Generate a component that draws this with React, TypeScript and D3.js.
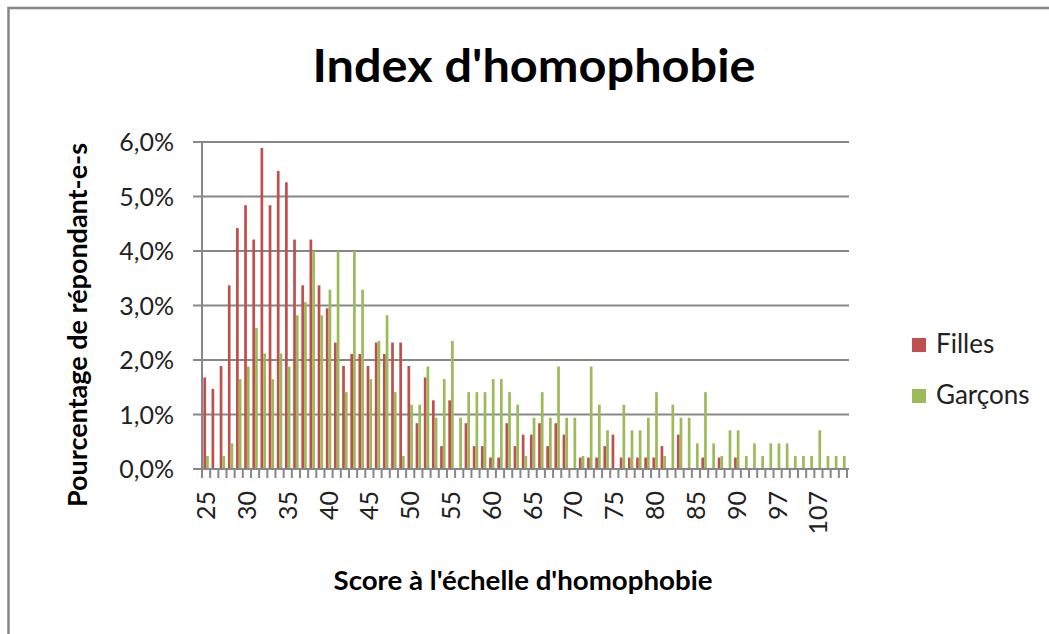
import React from "react";
import * as d3 from "d3";

// Categories: scores present on the scale
const scores: number[] = [
  25, 26, 27, 28, 29, 30, 31, 32, 33, 34,
  35, 36, 37, 38, 39, 40, 41, 42, 43, 44,
  45, 46, 47, 48, 49, 50, 51, 52, 53, 54,
  55, 56, 57, 58, 59, 60, 61, 62, 63, 64,
  65, 66, 67, 68, 69, 70, 71, 72, 73, 74,
  75, 76, 77, 78, 79, 80, 81, 82, 83, 84,
  85, 86, 87, 88, 89, 90, 91, 92, 93, 95,
  97, 98, 100, 102, 104, 107, 108, 110, 112,
];

// Percentage of respondents (Filles)
const filles: number[] = [
  1.68, 1.47, 1.89, 3.37, 4.42, 4.84, 4.21, 5.89, 4.84, 5.47,
  5.26, 4.21, 3.37, 4.21, 3.37, 2.95, 2.32, 1.89, 2.11, 2.11,
  1.89, 2.32, 2.11, 2.32, 2.32, 1.89, 0.84, 1.68, 1.26, 0.42,
  1.26, 0, 0.84, 0.42, 0.42, 0.21, 0.21, 0.84, 0.42, 0.63,
  0.63, 0.84, 0.42, 0.84, 0.63, 0, 0.21, 0.21, 0.21, 0.42,
  0.63, 0.21, 0.21, 0.21, 0.21, 0.21, 0.42, 0, 0.63, 0,
  0, 0.21, 0, 0.21, 0, 0.21, 0, 0, 0, 0,
  0, 0, 0, 0, 0, 0, 0, 0, 0,
];

// Percentage of respondents (Garçons)
const garcons: number[] = [
  0.24, 0, 0.24, 0.47, 1.65, 1.88, 2.59, 2.12, 1.65, 2.12,
  1.88, 2.82, 3.06, 4.0, 2.82, 3.29, 4.0, 1.41, 4.0, 3.29,
  1.65, 2.35, 2.82, 1.41, 0.24, 1.18, 1.18, 1.88, 0.94, 1.65,
  2.35, 0.94, 1.41, 1.41, 1.41, 1.65, 1.65, 1.41, 1.18, 0.24,
  0.94, 1.41, 0.94, 1.88, 0.94, 0.94, 0.24, 1.88, 1.18, 0.71,
  0, 1.18, 0.71, 0.71, 0.94, 1.41, 0.24, 1.18, 0.94, 0.94,
  0.47, 1.41, 0.47, 0.24, 0.71, 0.71, 0.24, 0.47, 0.24, 0.47,
  0.47, 0.47, 0.24, 0.24, 0.24, 0.71, 0.24, 0.24, 0.24,
];

const seriesNames: string[] = ["Filles", "Garçons"];
const seriesColors: string[] = ["#C0504D", "#9BBB59"];
const yTicks: number[] = [0, 1, 2, 3, 4, 5, 6];
const xLabelEvery = 5;

const W = 1049;
const H = 634;
const FONT = "Lato, 'Open Sans', sans-serif";
const GRID = "#878787";

export default function App() {
  const left = 202;
  const right = 847;
  const top = 142;
  const bottom = 469;

  const cats = scores.map(String);
  const x = d3.scaleBand<string>().domain(cats).range([left, right]).padding(0);
  const xs = d3
    .scaleBand<string>()
    .domain(seriesNames)
    .range([0, x.bandwidth()])
    .paddingInner(0)
    .paddingOuter(0.5);
  const y = d3.scaleLinear().domain([0, 6]).range([bottom, top]);
  const fmt = (v: number) => d3.format(".1f")(v).replace(".", ",") + "%";

  const data = [filles, garcons];
  const boundaries = d3.range(cats.length + 1).map((i) => left + i * x.step());

  return (
    <svg
      width={W}
      height={H}
      style={{ position: "absolute", left: 0, top: 0, background: "#fff" }}
      fontFamily={FONT}
    >
      <rect x={0} y={0} width={W} height={H} fill="#fff" />
      <rect x={8.5} y={8} width={W + 50} height={H + 50} fill="none" stroke="#868686" strokeWidth={2.5} />

      <text
        x={534}
        y={82}
        textAnchor="middle"
        fontSize={46}
        fontWeight="bold"
        fill="#000"
        textLength={443}
        lengthAdjust="spacingAndGlyphs"
      >
        Index d'homophobie
      </text>

      {/* gridlines */}
      {yTicks.map((t) => (
        <line key={"g" + t} x1={left} x2={849} y1={y(t)} y2={y(t)} stroke={GRID} strokeWidth={2} />
      ))}
      {/* y axis */}
      <line x1={left} x2={left} y1={top} y2={bottom + 9} stroke={GRID} strokeWidth={2} />
      {yTicks.map((t) => (
        <line key={"yt" + t} x1={193} x2={left} y1={y(t)} y2={y(t)} stroke={GRID} strokeWidth={2} />
      ))}
      {yTicks.map((t) => (
        <text key={"yl" + t} x={174} y={y(t)} dy="0.36em" textAnchor="end" fontSize={25} fill="#222">
          {fmt(t)}
        </text>
      ))}
      {/* x ticks */}
      {boundaries.map((bx, i) => (
        <line key={"xt" + i} x1={bx} x2={bx} y1={bottom} y2={bottom + 9} stroke={GRID} strokeWidth={2} />
      ))}

      {/* bars */}
      {data.map((vals, si) =>
        vals.map((v, i) =>
          v > 0 ? (
            <rect
              key={si + "-" + i}
              x={(x(cats[i]) as number) + (xs(seriesNames[si]) as number)}
              y={y(v)}
              width={xs.bandwidth()}
              height={y(0) - y(v)}
              fill={seriesColors[si]}
            />
          ) : null
        )
      )}
      {/* redraw baseline over bars */}
      <line x1={left} x2={849} y1={bottom} y2={bottom} stroke={GRID} strokeWidth={2} />

      {/* x labels */}
      {cats.map((c, i) =>
        i % xLabelEvery === 0 ? (
          <text
            key={"xl" + c}
            transform={`translate(${(x(c) as number) + x.bandwidth() / 2},491) rotate(-90)`}
            textAnchor="end"
            dy="0.36em"
            fontSize={25}
            fill="#222"
          >
            {c}
          </text>
        ) : null
      )}

      {/* axis titles */}
      <text
        transform={`translate(87,325) rotate(-90)`}
        textAnchor="middle"
        fontSize={27}
        fontWeight="bold"
        fill="#000"
        textLength={364}
        lengthAdjust="spacingAndGlyphs"
      >
        Pourcentage de répondant-e-s
      </text>
      <text
        x={523}
        y={590}
        textAnchor="middle"
        fontSize={27}
        fontWeight="bold"
        fill="#000"
        textLength={379}
        lengthAdjust="spacingAndGlyphs"
      >
        Score à l'échelle d'homophobie
      </text>

      {/* legend */}
      {seriesNames.map((n, i) => (
        <g key={"lg" + n} transform={`translate(912,${338 + i * 51})`}>
          <rect x={0} y={0} width={14} height={14} fill={seriesColors[i]} />
          <text x={24} y={14.5} fontSize={26} fill="#222">
            {n}
          </text>
        </g>
      ))}
    </svg>
  );
}
